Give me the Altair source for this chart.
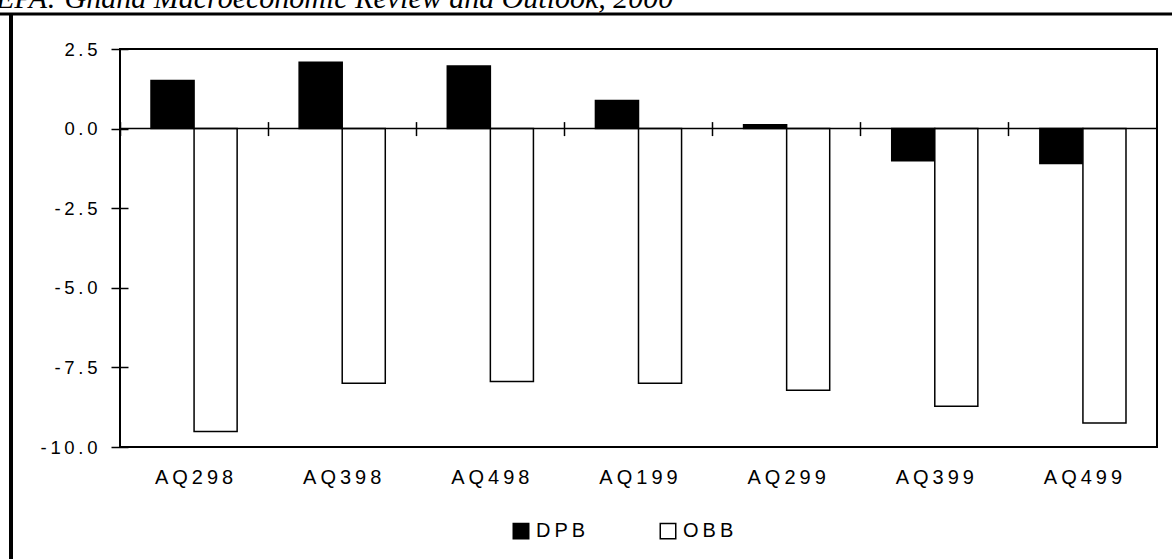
import altair as alt
import pandas as pd

categories = ["AQ298", "AQ398", "AQ498", "AQ199", "AQ299", "AQ399", "AQ499"]
dpb = [1.51, 2.08, 1.97, 0.88, 0.12, -1.01, -1.10]
obb = [-9.51, -8.00, -7.94, -8.00, -8.22, -8.72, -9.25]
series = ["DPB", "OBB"]
series_colors = ["black", "white"]
y_ticks = [-10, -7.5, -5, -2.5, 0, 2.5]
source_note = "CEPA: Ghana Macroeconomic Review and Outlook, 2000"

rows = []
for c, a, b in zip(categories, dpb, obb):
    rows.append({"quarter": c, "series": "DPB", "value": a})
    rows.append({"quarter": c, "series": "OBB", "value": b})
df = pd.DataFrame(rows)
cat_df = pd.DataFrame({"quarter": categories})
one = pd.DataFrame({"a": [0]})
zero_df = pd.DataFrame({"value": [0]})

W, H = 1037, 398
FONT = "Liberation Sans"
SPACED = "join(split(datum.label, ''), '\u2009')"

x_scale = alt.Scale(paddingInner=0, paddingOuter=0)
y_scale = alt.Scale(domain=[-10, 2.5], nice=False, zero=False)

x_enc = alt.X(
    "quarter:N", sort=categories, scale=x_scale,
    axis=alt.Axis(title=None, orient="bottom", ticks=False, tickSize=0, domain=False,
                  labelAngle=0, labelPadding=20, labelFont=FONT, labelFontSize=20,
                  labelColor="black", labelExpr=SPACED),
)
y_axis = alt.Axis(title=None, values=y_ticks, offset=-8, domain=False, tickSize=17,
                  tickColor="black", tickWidth=1.5, labelPadding=14, labelFont=FONT,
                  labelFontSize=18.5, labelColor="black", grid=False,
                  labelExpr="join(split(replace(format(datum.value, '.1f'), '\u2212', '-'), ''), '\u2009')")

bars = alt.Chart(df).mark_bar(stroke="black", strokeWidth=1.5).encode(
    x=x_enc,
    xOffset=alt.XOffset("series:N", scale=alt.Scale(domain=series, paddingInner=0, paddingOuter=0.72)),
    y=alt.Y("value:Q", scale=y_scale, axis=y_axis),
    y2=alt.datum(0),
    fill=alt.Fill(
        "series:N", scale=alt.Scale(domain=series, range=series_colors),
        legend=alt.Legend(title=None, orient="none", legendX=391, legendY=472,
                          direction="horizontal", symbolType="square", symbolSize=240,
                          symbolStrokeColor="black", symbolStrokeWidth=1.5,
                          labelFont=FONT, labelFontSize=20, labelColor="black",
                          labelOffset=5, columnPadding=71, padding=0,
                          labelExpr=SPACED),
    ),
)

zero_line = alt.Chart(zero_df).mark_rule(color="black", strokeWidth=1.5).encode(
    y=alt.Y("value:Q", scale=y_scale, axis=y_axis)
)

dividers = alt.Chart(cat_df).mark_point(opacity=0).encode(
    x=alt.X("quarter:N", sort=categories, scale=x_scale,
            axis=alt.Axis(title=None, orient="top", offset=-86.6, bandPosition=0,
                          labels=False, domain=False, ticks=True, tickSize=14,
                          tickWidth=1.5, tickColor="black"))
)

top_line = alt.Chart(one).mark_rule(color="black", strokeWidth=3).encode(
    x=alt.value(-120), x2=alt.value(1052), y=alt.value(-35)
)
left_line = alt.Chart(one).mark_rule(color="black", strokeWidth=4).encode(
    x=alt.value(-109), y=alt.value(-36), y2=alt.value(510)
)
note = alt.Chart(one).mark_text(
    align="left", baseline="alphabetic", font="Liberation Serif", fontStyle="italic",
    fontSize=30, color="black"
).encode(x=alt.value(-144), y=alt.value(-41), text=alt.value(source_note))

chart = alt.layer(bars, zero_line, dividers, top_line, left_line, note).resolve_axis(
    x="independent"
).properties(
    width=W, height=H,
    padding={"left": 120, "top": 49, "right": 15, "bottom": 112},
    autosize="none", background="white",
).configure_view(stroke="black", strokeWidth=2)

chart.save("out.html", embed_options={"renderer": "svg", "actions": False})
